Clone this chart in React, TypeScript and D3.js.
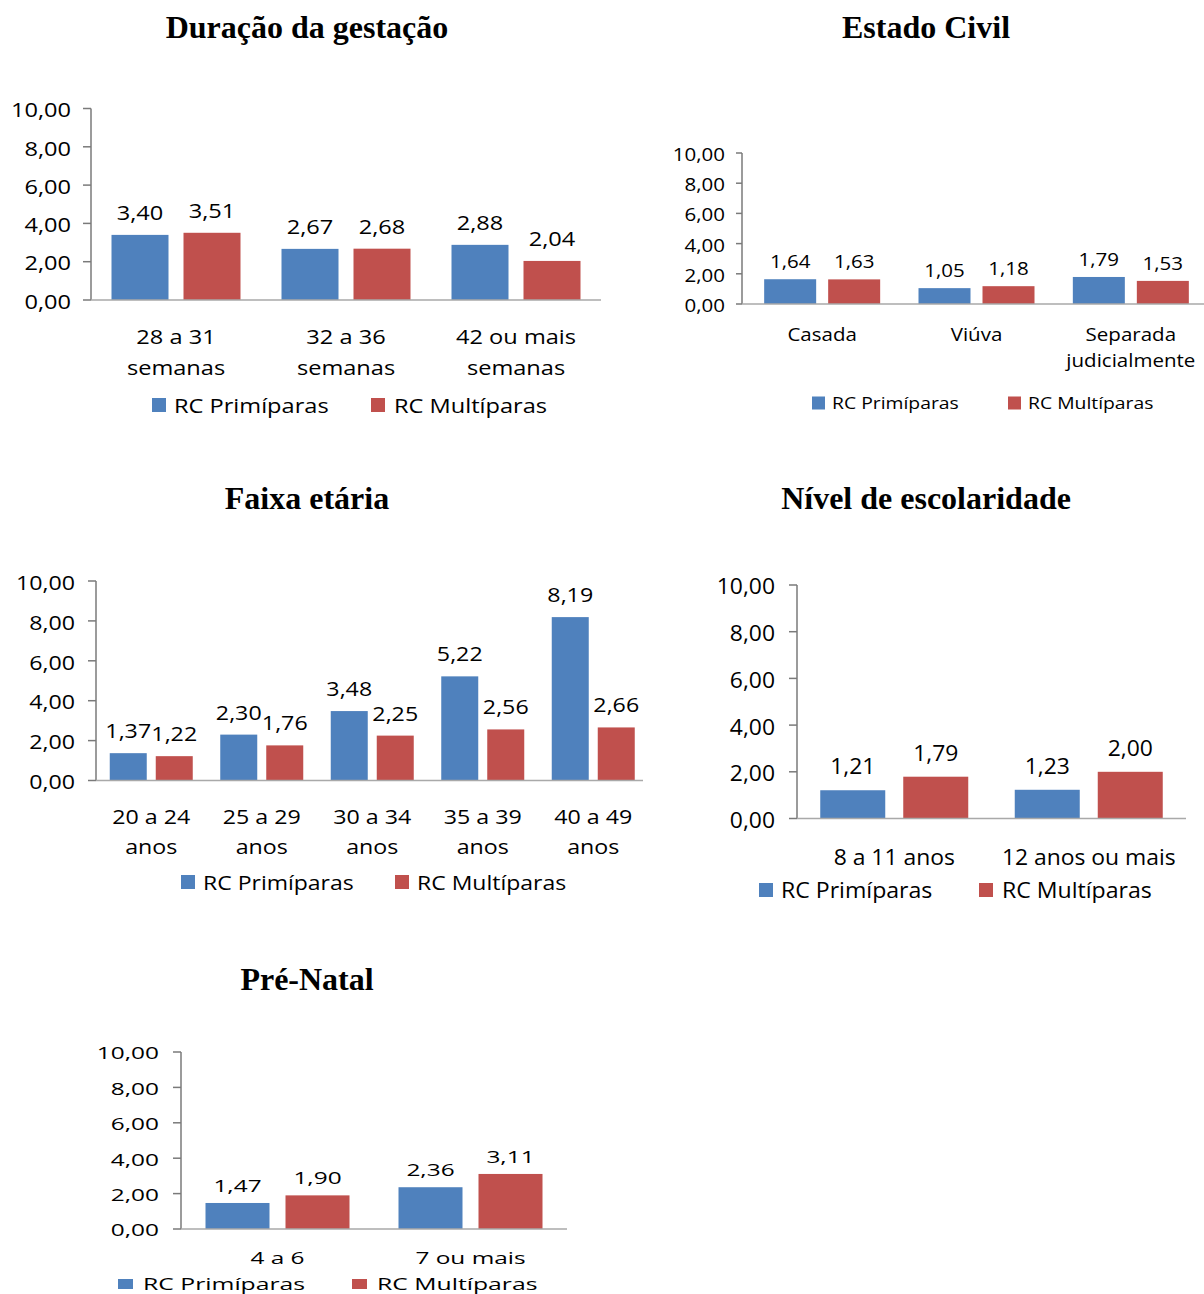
import React from "react";
import * as d3 from "d3";

// Series shared by every panel
const seriesNames = ["RC Primíparas", "RC Multíparas"];
const seriesColors = ["#4F81BD", "#C0504D"];
const yTickValues = [0, 2, 4, 6, 8, 10];

// Duração da gestação
const gestacaoCategories = [["28 a 31", "semanas"], ["32 a 36", "semanas"], ["42 ou mais", "semanas"]];
const gestacaoPrimiparas = [3.4, 2.67, 2.88];
const gestacaoMultiparas = [3.51, 2.68, 2.04];

// Estado Civil
const civilCategories = [["Casada"], ["Viúva"], ["Separada", "judicialmente"]];
const civilPrimiparas = [1.64, 1.05, 1.79];
const civilMultiparas = [1.63, 1.18, 1.53];

// Faixa etária
const idadeCategories = [["20 a 24", "anos"], ["25 a 29", "anos"], ["30 a 34", "anos"], ["35 a 39", "anos"], ["40 a 49", "anos"]];
const idadePrimiparas = [1.37, 2.3, 3.48, 5.22, 8.19];
const idadeMultiparas = [1.22, 1.76, 2.25, 2.56, 2.66];

// Nível de escolaridade
const escolaCategories = [["8 a 11 anos"], ["12 anos ou mais"]];
const escolaPrimiparas = [1.21, 1.23];
const escolaMultiparas = [1.79, 2.0];

// Pré-Natal
const preNatalCategories = [["4 a 6"], ["7 ou mais"]];
const preNatalPrimiparas = [1.47, 2.36];
const preNatalMultiparas = [1.9, 3.11];

const ptBR = d3.formatLocale({ decimal: ",", thousands: ".", grouping: [3], currency: ["R$", ""] });
const fmt = ptBR.format(".2f");

const SANS = "'Open Sans', 'Noto Sans', sans-serif";
const SERIF = "'Liberation Serif', 'Times New Roman', serif";

type Layout = {
  titleX: number;
  titleY: number;
  axisX: number;
  axisEnd: number;
  bandStart: number;
  bandEnd: number;
  yBase: number;
  yTop: number;
  barW: number;
  gap: number;
  font: number;
  sx: number;
  tickLen: number;
  tickLabelGap: number;
  valueOffset: number;
  catY: number;
  catLine: number;
  catFont: number;
  legendY: number;
  legendFont: number;
  legendSx: number;
  legendSq: [number, number];
  legendItems: [number, number][]; // [square x, text x]
};

function SText(props: {
  x: number;
  y: number;
  sx: number;
  size: number;
  anchor?: string;
  weight?: string | number;
  family?: string;
  fill?: string;
  children: React.ReactNode;
}) {
  const { x, y, sx, size, anchor = "middle", weight = "normal", family = SANS, fill = "#000", children } = props;
  return (
    <text
      transform={`translate(${x},${y}) scale(${sx},1)`}
      textAnchor={anchor}
      fontSize={size}
      fontWeight={weight}
      fontFamily={family}
      fill={fill}
    >
      {children}
    </text>
  );
}

function BarPanel(props: {
  title: string;
  categories: string[][];
  primiparas: number[];
  multiparas: number[];
  L: Layout;
}) {
  const { title, categories, primiparas, multiparas, L } = props;
  const keys = categories.map((c) => c.join(" "));
  const x = d3.scaleBand<string>().domain(keys).range([L.bandStart, L.bandEnd]);
  const y = d3.scaleLinear().domain([0, 10]).range([L.yBase, L.yTop]);
  const series = [primiparas, multiparas];

  return (
    <g>
      <SText x={L.titleX} y={L.titleY} sx={1} size={32} weight="bold" family={SERIF}>
        {title}
      </SText>

      {/* bars with their value labels */}
      {keys.map((k, i) => {
        const cx = (x(k) as number) + x.bandwidth() / 2;
        return series.map((vals, s) => {
          const v = vals[i];
          const bx = s === 0 ? cx - L.gap / 2 - L.barW : cx + L.gap / 2;
          return (
            <g key={`${k}-${s}`}>
              <rect x={bx} y={y(v)} width={L.barW} height={y(0) - y(v)} fill={seriesColors[s]} />
              <SText x={bx + L.barW / 2} y={y(v) - L.valueOffset} sx={L.sx} size={L.font}>
                {fmt(v)}
              </SText>
            </g>
          );
        });
      })}

      {/* value axis */}
      <line x1={L.axisX} x2={L.axisX} y1={y(10)} y2={y(0)} stroke="#7a7a7a" strokeWidth={1.5} />
      {yTickValues.map((t) => (
        <g key={t}>
          <line x1={L.axisX - L.tickLen} x2={L.axisX} y1={y(t)} y2={y(t)} stroke="#7a7a7a" strokeWidth={1.5} />
          <SText x={L.axisX - L.tickLabelGap} y={y(t) + L.font * 0.36 + 1.5} sx={L.sx} size={L.font} anchor="end">
            {fmt(t)}
          </SText>
        </g>
      ))}
      <line x1={L.axisX} x2={L.axisEnd} y1={y(0)} y2={y(0)} stroke="#a9a9a9" strokeWidth={1.5} />

      {/* category labels */}
      {categories.map((lines, i) => {
        const cx = (x(keys[i]) as number) + x.bandwidth() / 2;
        return lines.map((ln, j) => (
          <SText key={`${i}-${j}`} x={cx} y={L.catY + j * L.catLine} sx={L.sx} size={L.catFont}>
            {ln}
          </SText>
        ));
      })}

      {/* legend */}
      {seriesNames.map((name, s) => {
        const [sqX, txX] = L.legendItems[s];
        const [sw, sh] = L.legendSq;
        return (
          <g key={name}>
            <rect x={sqX} y={L.legendY - sh / 2} width={sw} height={sh} fill={seriesColors[s]} />
            <SText x={txX} y={L.legendY + L.legendFont * 0.36 + 0.5} sx={L.legendSx} size={L.legendFont} anchor="start">
              {name}
            </SText>
          </g>
        );
      })}
    </g>
  );
}

const gestacaoLayout: Layout = {
  titleX: 307, titleY: 38, axisX: 91, axisEnd: 601, bandStart: 91, bandEnd: 601,
  yBase: 300, yTop: 108.5, barW: 57, gap: 15, font: 20, sx: 1.18, tickLen: 8, tickLabelGap: 20,
  valueOffset: 15, catY: 344, catLine: 31, catFont: 20, legendY: 405, legendFont: 20, legendSx: 1.18,
  legendSq: [14, 14], legendItems: [[152, 174], [371, 394]],
};

const civilLayout: Layout = {
  titleX: 926, titleY: 38, axisX: 742, axisEnd: 1204, bandStart: 745, bandEnd: 1208,
  yBase: 304, yTop: 153, barW: 52, gap: 12, font: 18, sx: 1.14, tickLen: 6, tickLabelGap: 17,
  valueOffset: 11, catY: 341, catLine: 26, catFont: 18, legendY: 403, legendFont: 16.4, legendSx: 1.18,
  legendSq: [13, 13], legendItems: [[812, 832], [1008, 1028]],
};

const idadeLayout: Layout = {
  titleX: 307, titleY: 509, axisX: 96, axisEnd: 643, bandStart: 96, bandEnd: 648.5,
  yBase: 780.5, yTop: 581, barW: 37, gap: 9, font: 20, sx: 1.16, tickLen: 8, tickLabelGap: 21,
  valueOffset: 15, catY: 824, catLine: 30, catFont: 20, legendY: 882, legendFont: 20, legendSx: 1.15,
  legendSq: [14, 14], legendItems: [[181, 203], [395, 417]],
};

const escolaLayout: Layout = {
  titleX: 926, titleY: 509, axisX: 797, axisEnd: 1186, bandStart: 797, bandEnd: 1186,
  yBase: 818.5, yTop: 585, barW: 65, gap: 18, font: 22, sx: 1.04, tickLen: 8, tickLabelGap: 22,
  valueOffset: 16, catY: 865, catLine: 30, catFont: 22, legendY: 890, legendFont: 21, legendSx: 1.1,
  legendSq: [14, 14], legendItems: [[759, 781], [979, 1002]],
};

const preNatalLayout: Layout = {
  titleX: 307, titleY: 990, axisX: 181, axisEnd: 567, bandStart: 181, bandEnd: 567,
  yBase: 1229, yTop: 1052, barW: 64, gap: 16, font: 16.5, sx: 1.48, tickLen: 8, tickLabelGap: 22,
  valueOffset: 11, catY: 1264, catLine: 26, catFont: 16.5, legendY: 1284, legendFont: 16.5, legendSx: 1.5,
  legendSq: [15, 10], legendItems: [[118, 143], [352, 377]],
};

export default function App() {
  return (
    <svg
      width={1204}
      height={1294}
      viewBox="0 0 1204 1294"
      style={{ position: "absolute", left: 0, top: 0, background: "#fff", display: "block" }}
    >
      <rect x={0} y={0} width={1204} height={1294} fill="#fff" />
      <BarPanel title="Duração da gestação" categories={gestacaoCategories} primiparas={gestacaoPrimiparas} multiparas={gestacaoMultiparas} L={gestacaoLayout} />
      <BarPanel title="Estado Civil" categories={civilCategories} primiparas={civilPrimiparas} multiparas={civilMultiparas} L={civilLayout} />
      <BarPanel title="Faixa etária" categories={idadeCategories} primiparas={idadePrimiparas} multiparas={idadeMultiparas} L={idadeLayout} />
      <BarPanel title="Nível de escolaridade" categories={escolaCategories} primiparas={escolaPrimiparas} multiparas={escolaMultiparas} L={escolaLayout} />
      <BarPanel title="Pré-Natal" categories={preNatalCategories} primiparas={preNatalPrimiparas} multiparas={preNatalMultiparas} L={preNatalLayout} />
    </svg>
  );
}
